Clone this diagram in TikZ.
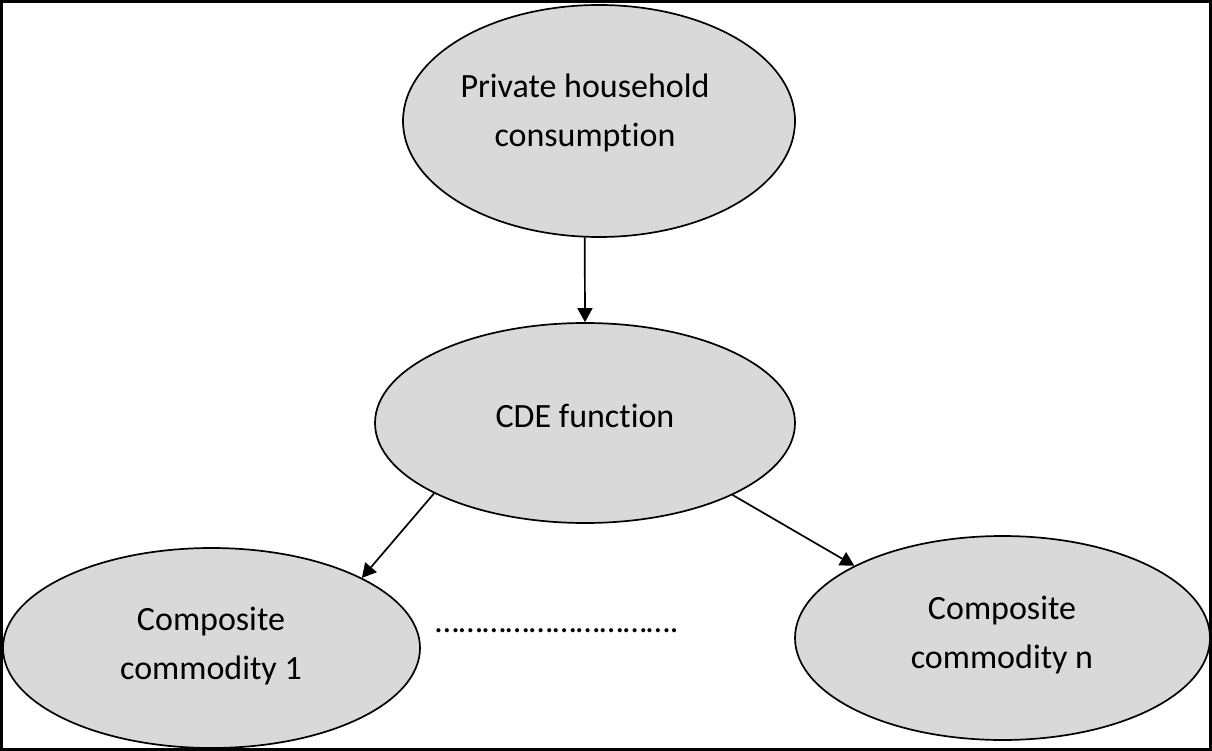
\documentclass[tikz,border=0pt]{standalone}
\usepackage{fontspec}
\setmainfont{Carlito}[Ligatures=NoCommon]
\usetikzlibrary{shapes.geometric,arrows.meta}
\definecolor{bubblefill}{HTML}{D9D9D9}
\begin{document}
\begin{tikzpicture}[x=1pt,y=-1pt,
  bubble/.style={ellipse,draw=black,fill=bubblefill,line width=1.7pt,inner sep=0pt},
  caption/.style={font=\fontsize{34}{49}\selectfont,align=center,anchor=base,inner sep=0pt},
  link/.style={line width=1.7pt,-{Triangle[length=14pt,width=15pt]}}]
\useasboundingbox (0,0) rectangle (1212,751);
% outer frame
\draw[line width=2.2pt] (1.5,1.5) rectangle (1210.5,749.5);

% ellipses
\node[bubble,minimum width=392pt,minimum height=232pt] (phc) at (599,121) {};
\node[bubble,minimum width=420pt,minimum height=200pt] (cde) at (585,423) {};
\node[bubble,minimum width=417pt,minimum height=200pt] (c1) at (211.5,648) {};
\node[bubble,minimum width=415pt,minimum height=204pt] (cn) at (1002.5,638) {};

% texts (base anchor sits on the last line)
\node[caption] (phc-t) at (585,147) {Private household\\consumption};
\node[caption] (cde-t) at (585,427) {CDE function};
\node[caption] (c1-t) at (211,679) {Composite\\commodity 1};
\node[caption] (cn-t) at (1002,668) {Composite\\commodity n};
\node[caption] (dots) at (557,632) {………………………….};

% connectors
\draw[link] (phc.263) -- (cde.90);
\draw[link] (cde.205.6) -- (c1.25.4);
\draw[link] (cde.334) -- (cn.154);
\end{tikzpicture}
\end{document}
